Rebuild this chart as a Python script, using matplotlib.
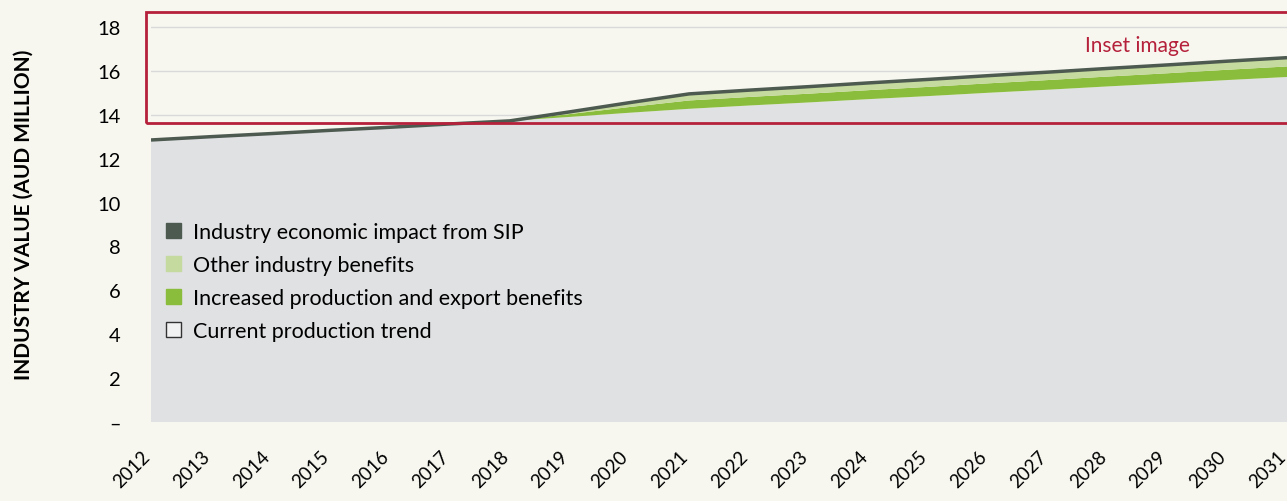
import matplotlib.pyplot as plt
from matplotlib.patches import Patch, Rectangle
import matplotlib.transforms as mtransforms

plt.rcParams['font.family'] = ['Lato', 'DejaVu Sans']

years = list(range(2012, 2032))
current_trend = [12.85, 13.00, 13.14, 13.29, 13.43, 13.58, 13.72, 13.90, 14.09, 14.27,
                 14.42, 14.56, 14.71, 14.85, 15.00, 15.14, 15.29, 15.43, 15.58, 15.72]
production_export = [0, 0, 0, 0, 0, 0, 0, 0.13, 0.26, 0.38,
                     0.39, 0.40, 0.41, 0.42, 0.43, 0.44, 0.45, 0.46, 0.47, 0.48]
other_benefits = [0, 0, 0, 0, 0, 0, 0, 0.10, 0.20, 0.30,
                  0.31, 0.32, 0.33, 0.34, 0.35, 0.36, 0.37, 0.38, 0.39, 0.40]
y_ticks = [0, 2, 4, 6, 8, 10, 12, 14, 16, 18]
y_labels = ['–', '2', '4', '6', '8', '10', '12', '14', '16', '18']

bg = '#f7f7f0'
grey = '#e0e1e3'
light_green = '#c5da9e'
green = '#8bbd3c'
dark = '#4d5a50'
red = '#b5203a'

fig = plt.figure(figsize=(12.87, 5.02), dpi=100)
fig.patch.set_facecolor(bg)
ax = fig.add_axes([151 / 1287, 79 / 502, 1136 / 1287, 417 / 502])
ax.set_facecolor(bg)

ax.stackplot(years, current_trend, production_export, other_benefits,
             colors=[grey, green, light_green], zorder=2)
total = [a + b + c for a, b, c in zip(current_trend, production_export, other_benefits)]
ax.plot(years, total, color=dark, lw=2.5, zorder=3, solid_capstyle='butt')

ax.set_xlim(2012, 2031)
ax.set_ylim(0, 19)
ax.set_yticks(y_ticks)
ax.set_yticklabels(y_labels, fontsize=14.5)
ax.set_xticks(years)
ax.set_xticklabels([str(y) for y in years], rotation=45, ha='right',
                   rotation_mode='anchor', fontsize=13.5)
ax.tick_params(length=0)
ax.tick_params(axis='y', pad=22)
ax.tick_params(axis='x', pad=18)
# nudge x labels so the last year stays inside the figure
offset = mtransforms.ScaledTranslation(-10 / 100, 0, fig.dpi_scale_trans)
for lbl in ax.get_xticklabels():
    lbl.set_transform(lbl.get_transform() + offset)
ax.grid(axis='y', color='#d9d9d9', lw=1, zorder=1)
for s in ax.spines.values():
    s.set_visible(False)

ax.set_ylabel('INDUSTRY VALUE (AUD MILLION)', fontsize=15, fontweight='bold', labelpad=46)

# inset marker
ax.add_patch(Rectangle((2011.92, 13.63), 19.5, 5.06, fill=False, edgecolor=red,
                       lw=2, zorder=4, clip_on=False))
ax.text(2028.5, 17.2, 'Inset image', color=red, fontsize=15, ha='center', va='center', zorder=5)

handles = [
    Patch(facecolor=dark, edgecolor=dark, label='Industry economic impact from SIP'),
    Patch(facecolor=light_green, edgecolor=light_green, label='Other industry benefits'),
    Patch(facecolor=green, edgecolor=green, label='Increased production and export benefits'),
    Patch(facecolor='#f2f2f2', edgecolor='#333333', label='Current production trend'),
]
ax.legend(handles=handles, loc='upper left', bbox_to_anchor=(0.0, 0.515), frameon=False,
          fontsize=15.5, handlelength=0.7, handleheight=0.7, handletextpad=0.55,
          labelspacing=0.6, borderaxespad=0.3)

fig.savefig('out.png', dpi=100, facecolor=bg)
